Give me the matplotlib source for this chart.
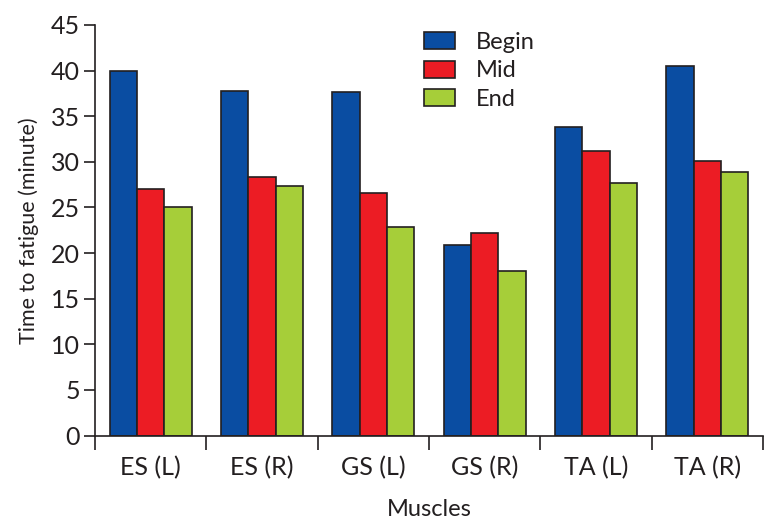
import matplotlib
matplotlib.use('Agg')
import matplotlib.pyplot as plt
import numpy as np

plt.rcParams['font.family'] = ['Lato', 'DejaVu Sans']

# Data
muscles = ['ES (L)', 'ES (R)', 'GS (L)', 'GS (R)', 'TA (L)', 'TA (R)']
begin = [39.9, 37.8, 37.6, 20.9, 33.8, 40.5]
mid = [27.0, 28.3, 26.6, 22.2, 31.2, 30.1]
end = [25.0, 27.4, 22.8, 18.0, 27.7, 28.9]
series_names = ['Begin', 'Mid', 'End']
colors = ['#0A4DA2', '#EC1C24', '#A6CE39']

fig = plt.figure(figsize=(7.82, 5.23), dpi=100)
ax = fig.add_axes([0.1215, 0.1673, 0.8542, 0.785])

x = np.arange(len(muscles))
w = 0.245
for i, (vals, name, c) in enumerate(zip([begin, mid, end], series_names, colors)):
    ax.bar(x + (i - 1) * w, vals, width=w, color=c, edgecolor='#231f20',
           linewidth=1.2, label=name, zorder=2)

ax.set_xlim(-0.5, len(muscles) - 0.5)
ax.set_ylim(0, 45)
ax.set_yticks(np.arange(0, 46, 5))
ax.set_xticks(x)
ax.set_xticklabels(muscles)
# group boundary ticks on x axis
ax.set_xticks(np.arange(-0.5, len(muscles), 1), minor=True)
ax.tick_params(axis='x', which='major', length=0, pad=15, labelsize=18, colors='#231f20')
ax.tick_params(axis='x', which='minor', length=10, width=1.2, color='#231f20')
ax.tick_params(axis='y', length=8, width=1.2, labelsize=18, color='#231f20',
               labelcolor='#231f20', pad=3)

for s in ['top', 'right']:
    ax.spines[s].set_visible(False)
for s in ['left', 'bottom']:
    ax.spines[s].set_linewidth(1.2)
    ax.spines[s].set_color('#231f20')

ax.set_ylabel('Time to fatigue (minute)', fontsize=15.5, color='#231f20', labelpad=8)
ax.set_xlabel('Muscles', fontsize=17, color='#231f20', labelpad=14)

ax.legend(loc='upper left', bbox_to_anchor=(0.46, 1.035), frameon=False,
          fontsize=17, handlelength=1.33, handleheight=0.72, handletextpad=0.9,
          labelspacing=0.32, labelcolor='#231f20')

fig.savefig('out.png', dpi=100, facecolor='white')
